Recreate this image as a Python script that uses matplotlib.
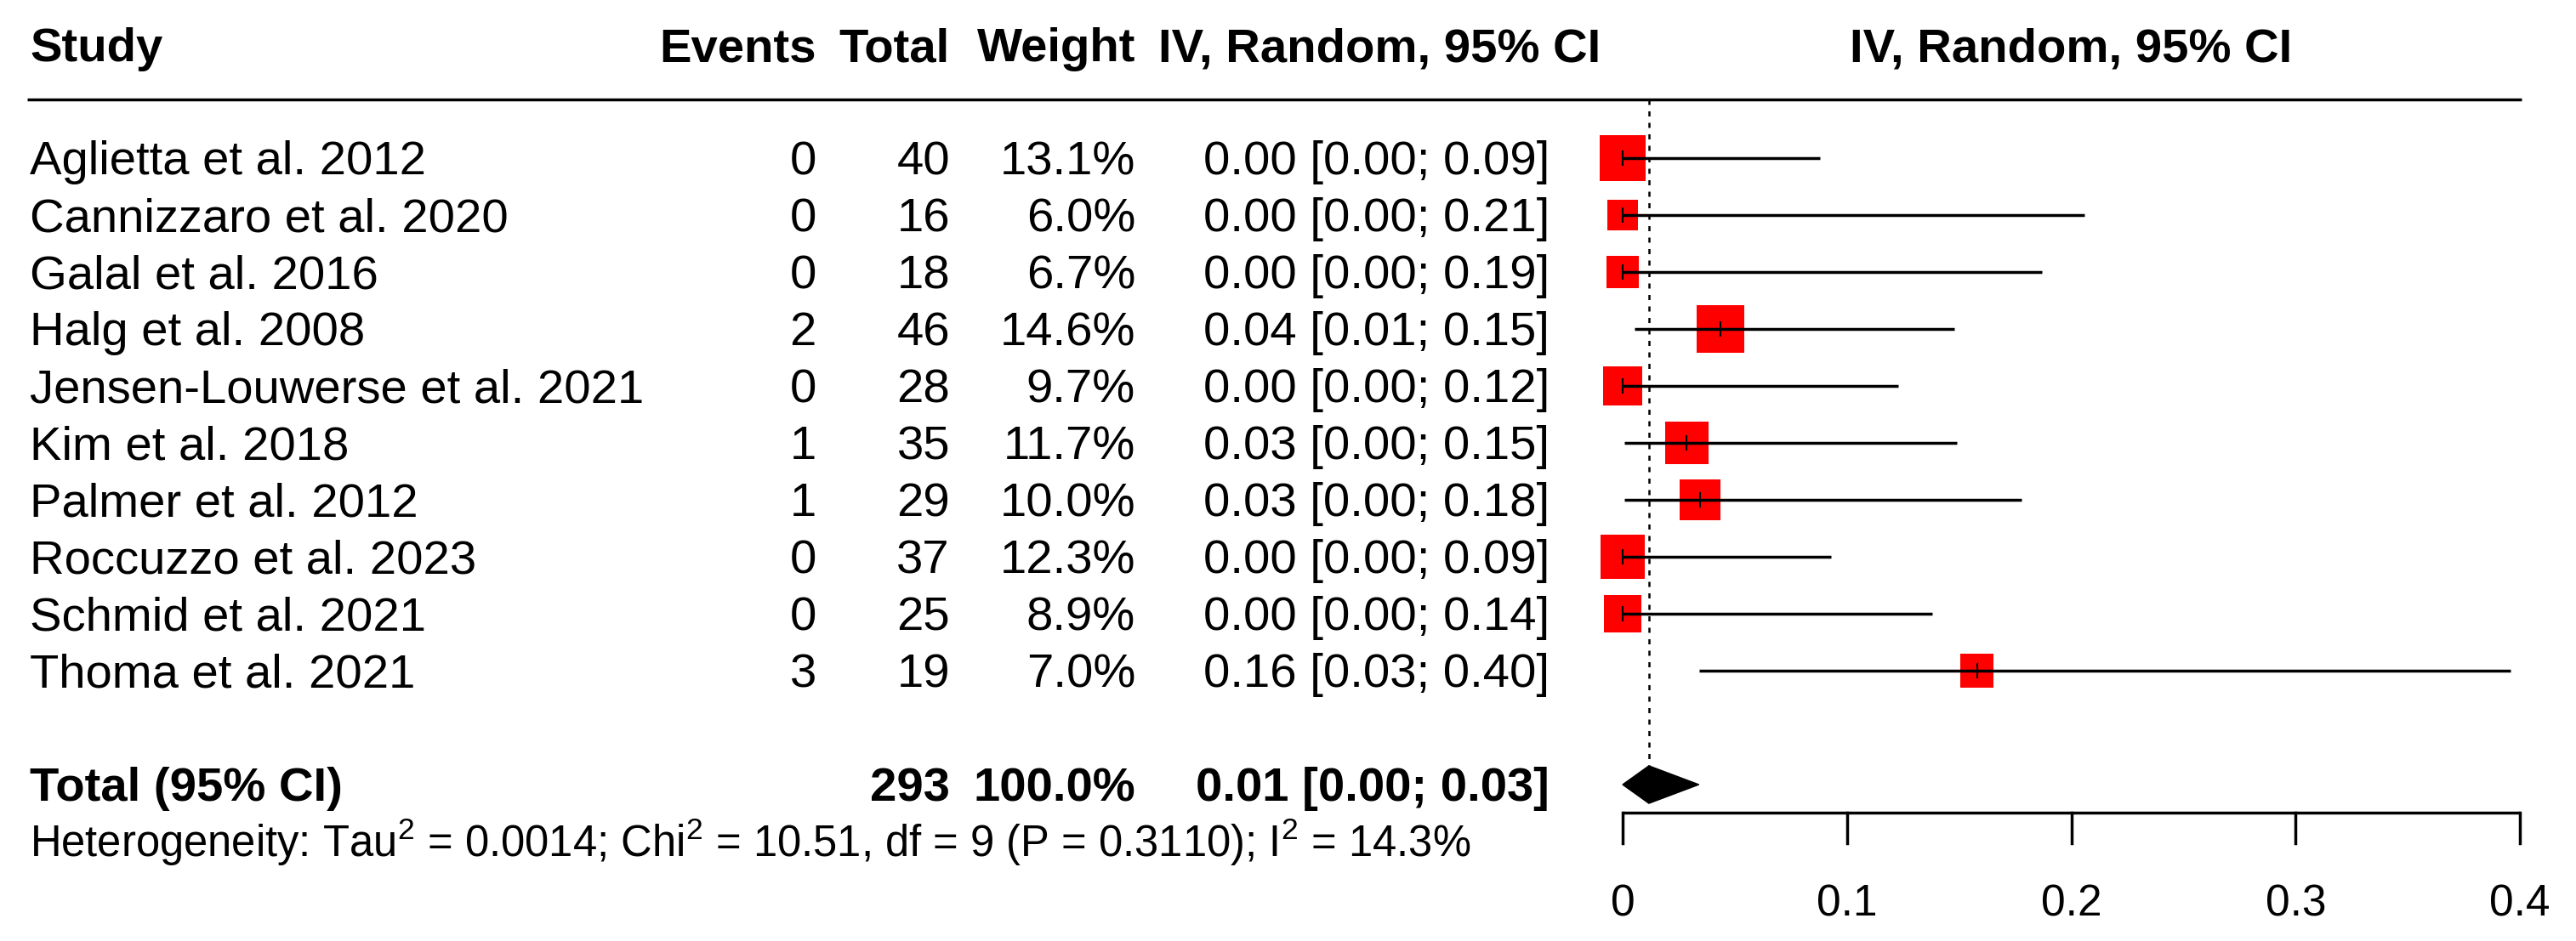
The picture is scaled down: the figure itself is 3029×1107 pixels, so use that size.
import numpy as np
import matplotlib.pyplot as plt
from matplotlib.patches import Rectangle, Polygon
from matplotlib.transforms import blended_transform_factory

plt.rcParams['font.family'] = ['Liberation Sans', 'DejaVu Sans']
plt.rcParams['mathtext.fontset'] = 'custom'
plt.rcParams['mathtext.rm'] = 'Liberation Sans'
plt.rcParams['mathtext.it'] = 'Liberation Sans:italic'
plt.rcParams['mathtext.bf'] = 'Liberation Sans:bold'

# data
studies = ["Aglietta et al. 2012", "Cannizzaro et al. 2020", "Galal et al. 2016",
           "Halg et al. 2008", "Jensen-Louwerse et al. 2021", "Kim et al. 2018",
           "Palmer et al. 2012", "Roccuzzo et al. 2023", "Schmid et al. 2021",
           "Thoma et al. 2021"]
events = [0, 0, 0, 2, 0, 1, 1, 0, 0, 3]
totals = [40, 16, 18, 46, 28, 35, 29, 37, 25, 19]
weights = [13.1, 6.0, 6.7, 14.6, 9.7, 11.7, 10.0, 12.3, 8.9, 7.0]
est = [0.0, 0.0, 0.0, 0.0436, 0.0, 0.0285, 0.0345, 0.0, 0.0, 0.158]
lower = [0.0, 0.0, 0.0, 0.0053, 0.0, 0.0008, 0.0009, 0.0, 0.0, 0.034]
upper = [0.088, 0.206, 0.187, 0.148, 0.123, 0.149, 0.178, 0.093, 0.138, 0.396]
pooled_est, pooled_lo, pooled_hi = 0.0117, 0.0, 0.034
hetero = ("Heterogeneity: Tau$^2$ = 0.0014; Chi$^2$ = 10.51, df = 9 "
          "(P = 0.3110); I$^2$ = 14.3%")
xticks = [0, 0.1, 0.2, 0.3, 0.4]
xticklabels = ["0", "0.1", "0.2", "0.3", "0.4"]

W, H = 3029, 1107
fig = plt.figure(figsize=(W / 100, H / 100), dpi=100)
ax = fig.add_axes([0, 0, 1, 1])
ax.axis("off")

# x: 0 -> 1908 px, 0.4 -> 2963 px ; y: one unit per study row (67 px)
ppu = (2963 - 1908) / 0.4
ax.set_xlim(-1908 / ppu, (W - 1908) / ppu)
ax.set_ylim((H - 186) / 67, -186 / 67)

tr = blended_transform_factory(fig.transFigure, ax.transData)
fs = 40.5
base = 0.29  # baseline offset below row centre
lw = 2.5

# headers
hy = -1.70
ax.text(35 / W, hy, "Study", transform=tr, fontsize=fs, weight="bold", va="baseline")
ax.text(960 / W, hy, "Events", transform=tr, fontsize=fs, weight="bold", ha="right", va="baseline")
ax.text(1117 / W, hy, "Total", transform=tr, fontsize=fs, weight="bold", ha="right", va="baseline")
ax.text(1335 / W, hy, "Weight", transform=tr, fontsize=fs, weight="bold", ha="right", va="baseline")
ax.text(1622 / W, hy, "IV, Random, 95% CI", transform=tr, fontsize=fs, weight="bold",
        ha="center", va="baseline")
ax.text(0.2, hy, "IV, Random, 95% CI", fontsize=fs, weight="bold", ha="center", va="baseline")
ax.plot([32 / W, 2965 / W], [-1.03, -1.03], transform=tr, color="black", lw=lw,
        solid_capstyle="butt")

rows = np.arange(len(studies))
for i in rows:
    y = i + base
    ax.text(35 / W, y, studies[i], transform=tr, fontsize=fs, va="baseline")
    ax.text(960 / W, y, str(events[i]), transform=tr, fontsize=fs, ha="right", va="baseline")
    ax.text(1117 / W, y, str(totals[i]), transform=tr, fontsize=fs, ha="right", va="baseline")
    ax.text(1335 / W, y, f"{weights[i]:.1f}%", transform=tr, fontsize=fs, ha="right", va="baseline")
    ax.text(1822 / W, y, f"{est[i]:.2f} [{lower[i]:.2f}; {upper[i]:.2f}]", transform=tr,
            fontsize=fs, ha="right", va="baseline")

    # square with area proportional to weight
    side_px = 14.9 * np.sqrt(weights[i])
    bw, bh = side_px / ppu, side_px / 67
    ax.add_patch(Rectangle((est[i] - bw / 2, i - bh / 2), bw, bh, facecolor="#ff0000",
                           edgecolor="none", zorder=2))
    ax.plot([lower[i], upper[i]], [i, i], color="black", lw=lw, zorder=3,
            solid_capstyle="butt")
    ax.plot([est[i], est[i]], [i - 0.12, i + 0.12], color="black", lw=1.5, zorder=4)

# pooled estimate
ty = 11
ax.text(35 / W, ty + base, "Total (95% CI)", transform=tr, fontsize=fs, weight="bold", va="baseline")
ax.text(1117 / W, ty + base, str(sum(totals)), transform=tr, fontsize=fs, weight="bold",
        ha="right", va="baseline")
ax.text(1335 / W, ty + base, f"{sum(weights):.1f}%", transform=tr, fontsize=fs, weight="bold",
        ha="right", va="baseline")
ax.text(1822 / W, ty + base, f"{pooled_est:.2f} [{pooled_lo:.2f}; {pooled_hi:.2f}]", transform=tr,
        fontsize=fs, weight="bold", ha="right", va="baseline")
dh = 0.33
ax.add_patch(Polygon([(pooled_lo, ty), (pooled_est, ty - dh), (pooled_hi, ty),
                      (pooled_est, ty + dh)], closed=True, facecolor="black",
                     edgecolor="black", lw=1, zorder=3))
ax.plot([pooled_est, pooled_est], [-1.03, ty - dh], color="black", lw=1.8,
        ls=(0, (2.4, 3.0)), zorder=1)

ax.text(35 / W, 12.27, hetero, transform=tr, fontsize=36.5, va="baseline")

# x axis
ay = 11.5
ax.plot([xticks[0], xticks[-1]], [ay, ay], color="black", lw=lw, solid_capstyle="butt")
for t, lab in zip(xticks, xticklabels):
    ax.plot([t, t], [ay, ay + 0.53], color="black", lw=lw)
    ax.text(t, 13.31, lab, fontsize=37, ha="center", va="baseline")

fig.savefig("out.png", dpi=100, facecolor="white")
